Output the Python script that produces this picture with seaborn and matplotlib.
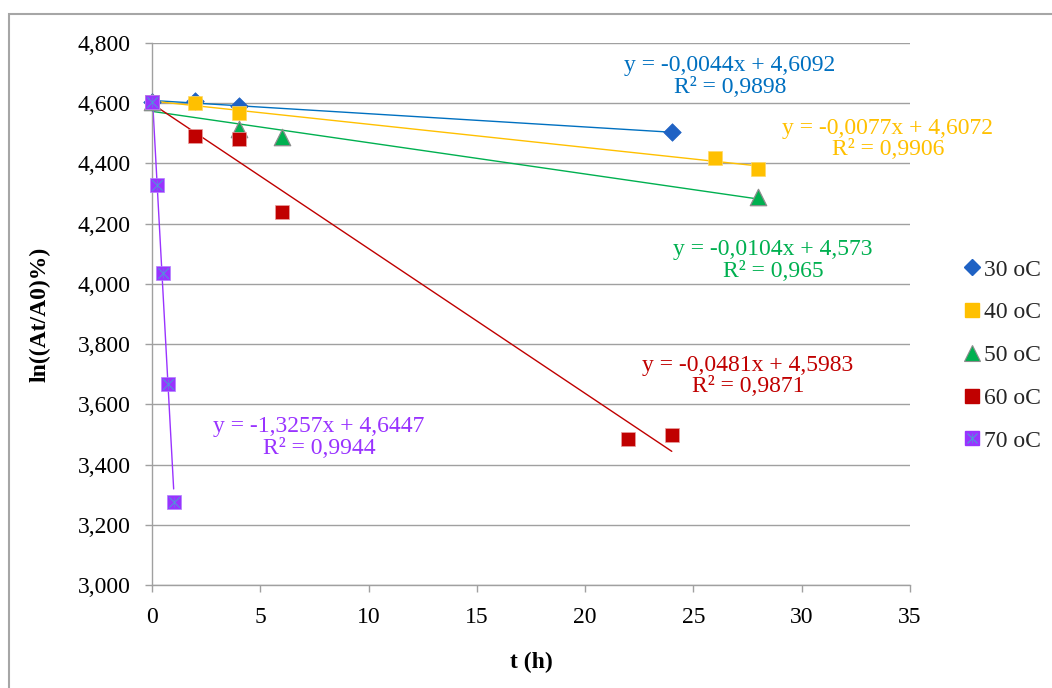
import numpy as np
import pandas as pd
import matplotlib
matplotlib.use("Agg")
import matplotlib.pyplot as plt
from matplotlib.lines import Line2D
from matplotlib.patches import Rectangle
from matplotlib.ticker import FuncFormatter
import seaborn as sns

# ---- data -------------------------------------------------------------
series_names = ["30 oC", "40 oC", "50 oC", "60 oC", "70 oC"]

t_30 = [0, 2, 4, 24]
y_30 = [4.605, 4.607, 4.591, 4.504]

t_40 = [0, 2, 4, 26, 28]
y_40 = [4.605, 4.602, 4.567, 4.419, 4.383]

t_50 = [0, 4, 6, 28]
y_50 = [4.605, 4.515, 4.488, 4.287]

t_60 = [0, 2, 4, 6, 22, 24]
y_60 = [4.605, 4.490, 4.480, 4.239, 3.484, 3.498]

t_70 = [0, 0.25, 0.5, 0.75, 1]
y_70 = [4.605, 4.327, 4.036, 3.667, 3.276]

# linear trendlines: slope, intercept, R²
slopes = [-0.0044, -0.0077, -0.0104, -0.0481, -1.3257]
intercepts = [4.6092, 4.6072, 4.573, 4.5983, 4.6447]
r2_values = [0.9898, 0.9906, 0.965, 0.9871, 0.9944]

y_ticks = [3.0, 3.2, 3.4, 3.6, 3.8, 4.0, 4.2, 4.4, 4.6, 4.8]
x_ticks = [0, 5, 10, 15, 20, 25, 30, 35]

# ---- styling ----------------------------------------------------------
sns.set_theme(style="white")
plt.rcParams["font.family"] = ["Liberation Serif", "DejaVu Serif"]
FS = 17

line_colors = ["#0070C0", "#FFC000", "#00B050", "#C00000", "#9933FF"]
marker_colors = ["#1F62C4", "#FFC000", "#00B050", "#C00000", "#9933FF"]
text_colors = ["#0070C0", "#FFC000", "#00B050", "#C00000", "#9933FF"]
star_color = "#4A9BD6"
grid_color = "#A0A0A0"

W, H = 1052, 688
fig = plt.figure(figsize=(W / 100, H / 100), dpi=100)
ax = fig.add_axes([152 / W, 1 - 585 / H, (910 - 152) / W, (585 - 43) / H])

# outer chart frame
fig.patches.append(Rectangle((9 / W, -0.1), 1.2, 1 - 14 / H + 0.1,
                             transform=fig.transFigure, fill=False,
                             edgecolor="#A6A6A6", lw=1.5, clip_on=False))

ts = [t_30, t_40, t_50, t_60, t_70]
ys = [y_30, y_40, y_50, y_60, y_70]

# trendlines first, markers on top
for i in range(5):
    x_end = max(ts[i])
    xl = np.array([0.0, x_end])
    yl = slopes[i] * xl + intercepts[i]
    sns.lineplot(x=xl, y=yl, color=line_colors[i], lw=1.0, ax=ax,
                 legend=False, zorder=2)

marker_kw = [
    dict(marker="D", s=80, edgecolor=marker_colors[0], linewidth=0.5),
    dict(marker="s", s=105, edgecolor="#FFD966", linewidth=0.5),
    dict(marker="^", s=140, edgecolor="#8C8C8C", linewidth=0.9),
    dict(marker="s", s=105, edgecolor="#E8A0A0", linewidth=0.5),
    dict(marker="s", s=105, edgecolor="#B480FF", linewidth=0.5),
]
for i in range(5):
    df = pd.DataFrame({"t": ts[i], "y": ys[i]})
    sns.scatterplot(data=df, x="t", y="y", color=marker_colors[i], ax=ax,
                    legend=False, zorder=3 + i, clip_on=False, **marker_kw[i])
    if i == 4:
        # star overlay inside the square markers
        sns.scatterplot(data=df, x="t", y="y", marker="x", s=60,
                        color=star_color, linewidth=0.7, ax=ax,
                        legend=False, zorder=9, clip_on=False)
        sns.scatterplot(data=df, x="t", y="y", marker="|", s=60,
                        color=star_color, linewidth=0.4, ax=ax,
                        legend=False, zorder=9, clip_on=False)

# axes
ax.set_xlim(0, 35)
ax.set_ylim(3.0, 4.8)
ax.set_yticks(y_ticks)
ax.set_xticks(x_ticks)
ax.yaxis.set_major_formatter(FuncFormatter(lambda v, p: f"{v:.3f}".replace(".", ",")))
ax.xaxis.set_major_formatter(FuncFormatter(lambda v, p: f"{v:g}"))
ax.grid(axis="y", color=grid_color, lw=1.0)
ax.grid(axis="x", visible=False)
ax.set_axisbelow(True)
for side in ["top", "right"]:
    ax.spines[side].set_visible(False)
for side in ["left", "bottom"]:
    ax.spines[side].set_color(grid_color)
    ax.spines[side].set_linewidth(1.0)
ax.tick_params(axis="both", which="major", direction="out", length=5,
               width=1.0, color=grid_color, labelsize=FS, labelcolor="black",
               pad=10.5, left=True, bottom=True)

ax.set_xlabel("t (h)", fontsize=FS, fontweight="bold", color="black")
ax.set_ylabel("ln((At/A0)%)", fontsize=FS, fontweight="bold", color="black")
ax.yaxis.set_label_coords((40 - 152) / (910 - 152), 0.5)
ax.xaxis.set_label_coords(0.5, -(662 - 585) / (585 - 43))
ax.xaxis.label.set_va("center")
ax.yaxis.label.set_va("center")

# trendline equations
eq_pos = [(26.69, 4.690), (33.98, 4.481), (28.67, 4.079), (27.52, 3.694), (7.71, 3.490)]

for i in range(5):
    s_txt = f"{slopes[i]:.4f}".replace(".", ",")
    b_txt = (f"{intercepts[i]:.4f}".rstrip("0") if i == 2
             else f"{intercepts[i]:.4f}").replace(".", ",")
    r_txt = (f"{r2_values[i]:.3f}" if i == 2
             else f"{r2_values[i]:.4f}").replace(".", ",")
    txt = f"y = {s_txt}x + {b_txt}\nR² = {r_txt}"
    ax.text(eq_pos[i][0], eq_pos[i][1], txt, color=text_colors[i], fontsize=FS,
            ha="center", va="center", multialignment="center", linespacing=1.05,
            clip_on=False, zorder=10)

# legend
handles = [
    Line2D([], [], ls="none", marker="D", ms=8.5, color=marker_colors[0]),
    Line2D([], [], ls="none", marker="s", ms=10, color=marker_colors[1]),
    Line2D([], [], ls="none", marker="^", ms=11, color=marker_colors[2],
           markeredgecolor="#8C8C8C", markeredgewidth=0.8),
    Line2D([], [], ls="none", marker="s", ms=10, color=marker_colors[3]),
    (Line2D([], [], ls="none", marker="s", ms=10, color=marker_colors[4]),
     Line2D([], [], ls="none", marker="x", ms=7.5, color=star_color, mew=0.8),
     Line2D([], [], ls="none", marker="|", ms=7.5, color=star_color, mew=0.5)),
]
fig.legend(handles, series_names, loc="upper left",
           bbox_to_anchor=(964 / W, 1 - 259 / H), frameon=False,
           fontsize=FS, handlelength=0.7, handletextpad=0.15,
           labelspacing=0.9, borderpad=0, borderaxespad=0)

fig.savefig("out.png", dpi=100)
